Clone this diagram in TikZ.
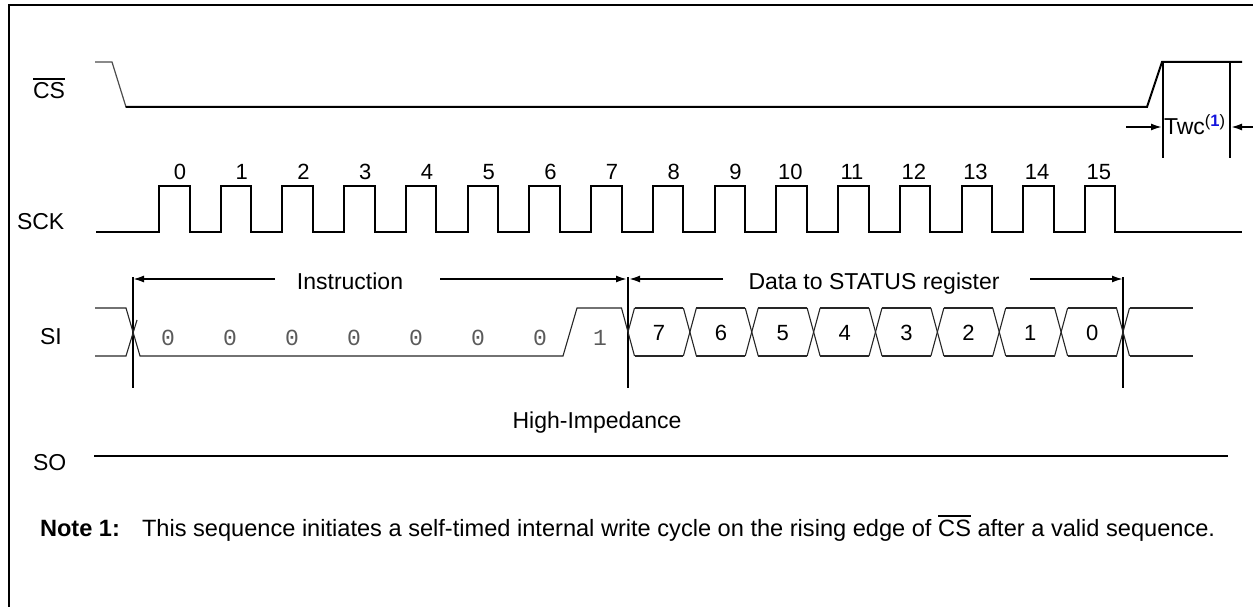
\documentclass[tikz,border=0pt]{standalone}
\usepackage{fontspec}
\setmainfont{Liberation Sans}
\newfontfamily\monof{Liberation Mono}
\usetikzlibrary{arrows.meta}
\definecolor{noteblue}{RGB}{20,20,220}
\definecolor{bitgray}{RGB}{90,90,90}
\newcommand\ovbar[1]{\vbox{\hrule height 1.8pt\kern 3pt\hbox{#1}}}
\begin{document}
\begin{tikzpicture}[x=1pt,y=-1pt,
  every node/.style={inner sep=0pt,outer sep=0pt},
  txt/.style={font={\fontsize{23}{27}\selectfont}},
  notetxt/.style={font={\fontsize{23.6}{28}\selectfont}},
  num/.style={font={\fontsize{22}{26}\selectfont}},
  bit/.style={font={\monof\fontsize{23}{27}\selectfont},text=bitgray},
  sig/.style={line width=2pt,line join=miter},
  thinsig/.style={line width=1.1pt,draw=black!85},
  vline/.style={line width=2pt},
  arr/.style={line width=1.8pt,-{Latex[length=11pt,width=7pt]}}]
\useasboundingbox (0,0) rectangle (1253,607);
% frame
\draw[line width=2.5pt] (9,607) -- (9,5) -- (1253,5);

% labels
\node[txt,anchor=base west] (lcs) at (33,99) {\ovbar{CS}};
\node[txt,anchor=base west] (lsck) at (17,229) {SCK};
\node[txt,anchor=base west] (lsi) at (40,344) {SI};
\node[txt,anchor=base west] (lso) at (33,470) {SO};

% CS
\draw[line width=1.2pt,draw=black!70] (95,62) -- (112,62) -- (126,107);
\draw[sig] (125.6,107) -- (1147,107) -- (1162,62) -- (1242,62);
% Twc
\coordinate (tw1t) at (1163,62);
\coordinate (tw1b) at (1163,158);
\coordinate (tw2t) at (1230,62);
\coordinate (tw2b) at (1230,158);
\draw[vline] (tw1t) -- (tw1b);
\draw[vline] (tw2t) -- (tw2b);
\coordinate (twa) at (1126,127);
\coordinate (twb) at (1253,127);
\draw[arr] (twa) -- (1162,127);
\draw[arr] (twb) -- (1231,127);
\node[txt,anchor=base west] (twc) at (1164,135) {Twc\raisebox{8pt}{\fontsize{16.5}{17}\selectfont(\textcolor{noteblue}{\textbf{1}})}};

% SCK
\draw[sig] (96,232) foreach \k in {0,...,15} {
  -- ({159+61.73*\k},232) -- ({159+61.73*\k},186) -- ({189.5+61.73*\k},186) -- ({189.5+61.73*\k},232) } -- (1242,232);
\foreach \k in {0,...,15} {
  \ifnum\k<10
    \node[num,anchor=base] (c\k) at ({180+61.73*\k},179) {\k};
  \else
    \node[num,anchor=base] (c\k) at ({173+61.73*\k},179) {\k};
  \fi
}

% SI markers
\foreach \x/\n in {133/va,628/vb,1123/vc} {
  \coordinate (\n t) at (\x,277);
  \coordinate (\n b) at (\x,388);
  \draw[vline] (\n t) -- (\n b);
}
\node[txt,anchor=base] (instr) at (350,289) {Instruction};
\node[txt,anchor=base] (data) at (874,289) {Data to STATUS register};
\draw[arr] (275,279) -- (vat |- 0,279);
\draw[arr] (440,279) -- (627,279);
\draw[arr] (723,279) -- (629,279);
\draw[arr] (1030,279) -- (vct |- 0,279);

% SI waveform
\draw[thinsig] (95,308) -- (126,308) -- (140,356) -- (563,356) -- (577,308) -- (621.5,308) -- (634.5,356);
\draw[thinsig] (95,356) -- (126,356) -- (137,320);
\draw[thinsig] (628,332) -- (634.5,308);
\foreach \j in {0,...,7} {
  \pgfmathsetmacro\ca{628+61.875*\j}
  \pgfmathsetmacro\cb{628+61.875*(\j+1)}
  \draw[thinsig] (\ca+6.5,308) -- (\cb-6.5,308);
  \draw[thinsig] (\ca+6.5,356) -- (\cb-6.5,356);
}
\foreach \j in {1,...,8} {
  \pgfmathsetmacro\ca{628+61.875*\j}
  \draw[thinsig] (\ca-6.5,308) -- (\ca+6.5,356);
  \draw[thinsig] (\ca-6.5,356) -- (\ca+6.5,308);
}
\draw[thinsig] (1129.5,308) -- (1193,308);
\draw[thinsig] (1129.5,356) -- (1193,356);
\foreach \b [count=\i from 0] in {7,6,5,4,3,2,1,0} {
  \node[num,anchor=base] (d\i) at ({659+61.875*\i},340) {\b};
}
\foreach \i in {0,...,6} {
  \node[bit,anchor=base] (z\i) at ({168+62*\i},345) {0};
}
\node[bit,anchor=base] (one) at (600,345) {1};

% SO
\node[txt,anchor=base] (hiz) at (597,428) {High-Impedance};
\coordinate (soa) at (94,456);
\coordinate (sob) at (1228,456);
\draw[sig] (soa) -- (sob);

% note
\node[notetxt,anchor=base west] (n1) at (40,536) {\textbf{Note 1:}};
\node[notetxt,anchor=base west] (n2) at (142,536) {This sequence initiates a self-timed internal write cycle on the rising edge of \ovbar{CS} after a valid sequence.};
\end{tikzpicture}
\end{document}
